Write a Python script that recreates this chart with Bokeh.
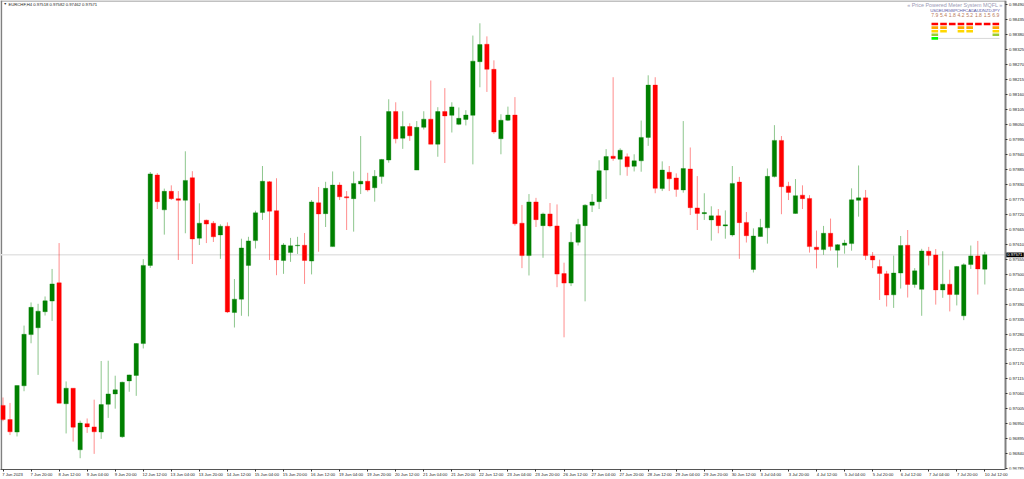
from bokeh.core.properties import value
from bokeh.embed import file_html
from bokeh.models import ColumnDataSource, FixedTicker, LinearAxis, NumeralTickFormatter, Range1d
from bokeh.plotting import figure
from bokeh.resources import INLINE

# EURCHF H4 quotes, in 1e-5 price units
opens = [97018, 96966, 96920, 97090, 97278, 97303, 97362, 97401, 97468, 97024,
         97081, 96855, 96951, 96939, 96920, 97022, 97060, 96903, 97108, 97128,
         97245, 97532, 97864, 97736, 97804, 97777, 97771, 97854, 97632, 97698,
         97687, 97644, 97676, 97359, 97408, 97532, 97623, 97726, 97839, 97733,
         97550, 97579, 97604, 97606, 97548, 97762, 97722, 97601, 97827, 97784,
         97777, 97831, 97841, 97817, 97858, 97919, 98097, 97999, 98042, 97882,
         98039, 98069, 97977, 98097, 98083, 98050, 98068, 98083, 98280, 98344,
         98252, 97997, 98065, 98084, 97687, 97568, 97765, 97678, 97721, 97677,
         97502, 97467, 97617, 97678, 97753, 97766, 97882, 97933, 97922, 97931,
         97896, 97916, 98002, 98194, 97814, 97874, 97853, 97809, 97886, 97743,
         97722, 97699, 97714, 97677, 97644, 97838, 97690, 97517, 97638, 97670,
         97858, 97991, 97823, 97723, 97790, 97778, 97599, 97590, 97650, 97588,
         97606, 97612, 97771, 97780, 97567, 97528, 97501, 97424, 97504, 97606,
         97462, 97444, 97584, 97570, 97442, 97463, 97425, 97347, 97535, 97567,
         97518]
highs = [97047, 97027, 97091, 97311, 97396, 97391, 97418, 97519, 97614, 97106,
         97081, 96962, 96970, 97039, 97181, 97182, 97127, 97105, 97131, 97247,
         97555, 97875, 97871, 97814, 97826, 97805, 97951, 97878, 97760, 97700,
         97695, 97683, 97690, 97482, 97630, 97637, 97733, 97897, 97842, 97852,
         97614, 97633, 97637, 97651, 97772, 97820, 97839, 97877, 97837, 97805,
         97877, 98007, 97872, 97882, 97923, 98142, 98131, 98098, 98054, 98062,
         98098, 98211, 98113, 98183, 98131, 98112, 98102, 98376, 98421, 98373,
         98285, 98087, 98115, 98150, 97754, 97794, 97780, 97726, 97761, 97756,
         97542, 97654, 97703, 97757, 97794, 97918, 97959, 98223, 97962, 97943,
         97940, 98064, 98230, 98223, 97914, 97897, 97870, 98062, 97965, 97860,
         97797, 97749, 97739, 97734, 97897, 97857, 97728, 97668, 97703, 97888,
         98047, 98007, 97839, 97849, 97826, 97790, 97660, 97677, 97704, 97610,
         97626, 97815, 97899, 97809, 97581, 97553, 97512, 97568, 97640, 97662,
         97522, 97593, 97600, 97592, 97584, 97516, 97530, 97540, 97605, 97622,
         97582]
lows = [96960, 96909, 96904, 97070, 97246, 97130, 97348, 97328, 97026, 96915,
        96885, 96824, 96917, 96840, 96895, 96972, 97006, 96899, 97068, 97053,
        97227, 97523, 97739, 97645, 97772, 97552, 97650, 97537, 97607, 97614,
        97618, 97556, 97357, 97304, 97347, 97345, 97594, 97699, 97552, 97496,
        97501, 97545, 97574, 97464, 97499, 97582, 97673, 97601, 97772, 97662,
        97656, 97794, 97803, 97766, 97832, 97909, 97980, 97960, 97989, 97882,
        98031, 97977, 97931, 97908, 98020, 98047, 98046, 97903, 98186, 98169,
        98015, 97940, 98062, 97678, 97522, 97495, 97673, 97560, 97672, 97452,
        97268, 97456, 97605, 97400, 97728, 97739, 97776, 97916, 97863, 97861,
        97877, 97876, 97971, 97797, 97805, 97805, 97784, 97799, 97717, 97662,
        97699, 97623, 97650, 97630, 97638, 97556, 97616, 97506, 97638, 97612,
        97855, 97720, 97772, 97722, 97739, 97579, 97521, 97571, 97586, 97524,
        97575, 97586, 97711, 97552, 97522, 97405, 97381, 97376, 97447, 97414,
        97450, 97347, 97532, 97388, 97413, 97363, 97385, 97331, 97519, 97425,
        97462]
closes = [96966, 96921, 97091, 97279, 97378, 97364, 97402, 97464, 97026, 97081,
          96938, 96953, 96939, 96921, 97021, 97060, 97075, 97103, 97130, 97245,
          97532, 97868, 97766, 97804, 97777, 97771, 97844, 97629, 97687, 97684,
          97637, 97676, 97361, 97408, 97596, 97622, 97725, 97841, 97731, 97552,
          97607, 97604, 97606, 97550, 97765, 97721, 97815, 97827, 97784, 97780,
          97833, 97841, 97809, 97859, 97921, 98097, 97997, 98042, 98008, 98039,
          98069, 97977, 98097, 98081, 98114, 98072, 98084, 98282, 98343, 98252,
          98022, 98065, 98084, 97685, 97568, 97765, 97700, 97721, 97677, 97500,
          97467, 97617, 97682, 97753, 97765, 97880, 97932, 97925, 97955, 97894,
          97916, 98002, 98194, 97815, 97882, 97850, 97811, 97888, 97744, 97723,
          97726, 97714, 97678, 97681, 97833, 97689, 97641, 97640, 97671, 97859,
          97991, 97821, 97800, 97788, 97777, 97601, 97590, 97650, 97601, 97608,
          97614, 97773, 97780, 97568, 97552, 97502, 97423, 97504, 97605, 97462,
          97512, 97585, 97568, 97442, 97463, 97425, 97528, 97534, 97567, 97519,
          97571]

time_labels = ["7 Jun 2023", "7 Jun 20:00", "8 Jun 12:00", "9 Jun 04:00", "9 Jun 20:00", "12 Jun 12:00",
               "13 Jun 04:00", "13 Jun 20:00", "14 Jun 12:00", "15 Jun 04:00", "15 Jun 20:00", "16 Jun 12:00",
               "19 Jun 04:00", "19 Jun 20:00", "20 Jun 12:00", "21 Jun 04:00", "21 Jun 20:00", "22 Jun 12:00",
               "23 Jun 04:00", "23 Jun 20:00", "26 Jun 12:00", "27 Jun 04:00", "27 Jun 20:00", "28 Jun 12:00",
               "29 Jun 04:00", "29 Jun 20:00", "30 Jun 12:00", "3 Jul 04:00", "3 Jul 20:00", "4 Jul 12:00",
               "5 Jul 04:00", "5 Jul 20:00", "6 Jul 12:00", "7 Jul 04:00", "7 Jul 20:00", "10 Jul 12:00"]
time_ticks = [4 * i for i in range(len(time_labels))]
price_ticks = [round(0.96785 + 0.00055 * i, 5) for i in range(32)]
last_price = 0.97571

meter_names = ["USD", "EUR", "GBP", "CHF", "CAD", "AUD", "NZD", "JPY"]
meter_values = [7.9, 5.4, 1.8, 4.2, 5.2, 1.8, 1.5, 6.9]
meter_levels = [5, 3, 1, 3, 3, 1, 1, 4]
level_colors = ["#ff0000", "#ffa500", "#ffd700", "#9acd32", "#00ff00"]

FONT = "Liberation Sans"
SMALL = "4.2px"
BAR_PX = 7.013
X_START = -2.5 / BAR_PX
X_END = X_START + 1024 / BAR_PX
Y_TOP, Y_BOTTOM = 0.985047, 0.967826


def px_x(x):
    return X_START + x / BAR_PX


def px_y(y):
    return Y_TOP + y * (Y_BOTTOM - Y_TOP) / 470


index = list(range(len(opens)))
up = [c >= o for o, c in zip(opens, closes)]
source = ColumnDataSource(dict(
    x=index,
    high=[v / 1e5 for v in highs],
    low=[v / 1e5 for v in lows],
    top=[max(o, c) / 1e5 for o, c in zip(opens, closes)],
    bottom=[min(o, c) / 1e5 for o, c in zip(opens, closes)],
    color=["#008000" if u else "#ff0000" for u in up],
))

p = figure(width=1024, height=479, output_backend="svg", toolbar_location=None,
           x_range=Range1d(X_START, X_END), y_range=Range1d(Y_BOTTOM, Y_TOP),
           x_axis_location=None, y_axis_location=None,
           min_border_left=0, min_border_top=0, min_border_right=0, min_border_bottom=9)
p.styles = {"position": "absolute", "left": "0px", "top": "0px"}
p.grid.visible = False
p.outline_line_color = None

# the price axis sits inside the frame so the last-price tag can lie over its label column
right_axis = LinearAxis(ticker=FixedTicker(ticks=price_ticks), formatter=NumeralTickFormatter(format="0.00000"),
                        fixed_location=px_x(1004.5))
right_axis.major_label_text_font = FONT
right_axis.major_label_text_font_size = SMALL
right_axis.major_label_text_color = "#222222"
right_axis.major_label_standoff = 2
right_axis.major_tick_in = 0
right_axis.major_tick_out = 2
right_axis.major_tick_line_color = "#333333"
right_axis.minor_tick_line_color = None
right_axis.axis_line_color = "#808080"
right_axis.axis_line_width = 2
p.add_layout(right_axis, "right")

# the labels start at their tick: major ticks sit under the label centres, the marks are the minor ticks
label_centres = [round(t + 0.95 * len(s) / BAR_PX, 3) for t, s in zip(time_ticks, time_labels)]
bottom_axis = LinearAxis(ticker=FixedTicker(ticks=label_centres, minor_ticks=time_ticks),
                         bounds=(X_START, px_x(1005)))
bottom_axis.major_label_overrides = dict(zip(label_centres, time_labels))
bottom_axis.major_label_text_font = FONT
bottom_axis.major_label_text_font_size = SMALL
bottom_axis.major_label_text_color = "#222222"
bottom_axis.major_label_standoff = 0
bottom_axis.major_tick_line_color = None
bottom_axis.major_tick_in = 0
bottom_axis.major_tick_out = 0
bottom_axis.minor_tick_in = 0
bottom_axis.minor_tick_out = 2
bottom_axis.minor_tick_line_color = "#333333"
bottom_axis.axis_line_color = "#555555"
p.add_layout(bottom_axis, "below")

# window frame, left and top
p.segment([px_x(0.8)], [px_y(0)], [px_x(0.8)], [px_y(470)], line_color="#808080", line_width=1.7)
p.segment([0 + X_START], [px_y(0.5)], [px_x(1005)], [px_y(0.5)], line_color="#808080", line_width=1)

p.segment([X_START], [last_price], [px_x(1004)], [last_price], line_color="#e4e4e4", line_width=1.5)

p.segment("x", "high", "x", "low", source=source, line_color="color", line_alpha=0.45, line_width=1)
p.vbar(x="x", width=0.62, top="top", bottom="bottom", source=source,
       fill_color="color", line_color="color", line_alpha=0.35, line_width=1)

# last-price tag on the price axis
p.quad(left=[px_x(1005.3)], right=[px_x(1023.3)], top=[px_y(252.6)], bottom=[px_y(257.4)],
       fill_color="#000000", line_color=None)
p.text([px_x(1014.3)], [last_price], text=["0.97571"], text_font=value(FONT), text_font_size=SMALL,
       text_align="center", text_baseline="middle", text_color="#ffffff")

p.text([px_x(3)], [px_y(4)], text=["▼"], text_font=value(FONT), text_font_size="3.5px",
       text_baseline="middle", text_color="#333333")
p.text([px_x(8)], [px_y(4)], text=["EURCHF,H4  0.97518 0.97582 0.97462 0.97571"], text_font=value(FONT),
       text_font_size=SMALL, text_baseline="middle", text_color="#222222")

# meter panel in the top right corner
columns = [934.3 + 8.72 * i for i in range(len(meter_names))]
p.text([px_x(1002)], [px_y(5)], text=["« Price Powered Meter System MQFL »"], text_font=value(FONT),
       text_font_size="5.4px", text_align="right", text_baseline="middle", text_color="#9a9ab4")
p.text([px_x(c) for c in columns], [px_y(10)] * 8, text=meter_names, text_font=value(FONT),
       text_font_size="4.4px", text_align="center", text_baseline="middle", text_color="#5a5aa8")
p.text([px_x(c) for c in columns], [px_y(14.5)] * 8, text=[f"{v:.1f}" for v in meter_values], text_font=value(FONT),
       text_font_size="5px", text_align="center", text_baseline="middle", text_color="#b87a5a")
for col, level in zip(columns, meter_levels):
    for row in range(level):
        p.quad(left=[px_x(col - 3.3)], right=[px_x(col + 3.3)],
               top=[px_y(22.3 + 3.6 * row)], bottom=[px_y(24.9 + 3.6 * row)],
               fill_color=level_colors[row], line_color=None)
p.segment([px_x(937.5)], [px_y(38)], [px_x(999)], [px_y(38)], line_color="#d8d8d8", line_width=1)

open("out.html", "w").write(file_html(p, INLINE))
